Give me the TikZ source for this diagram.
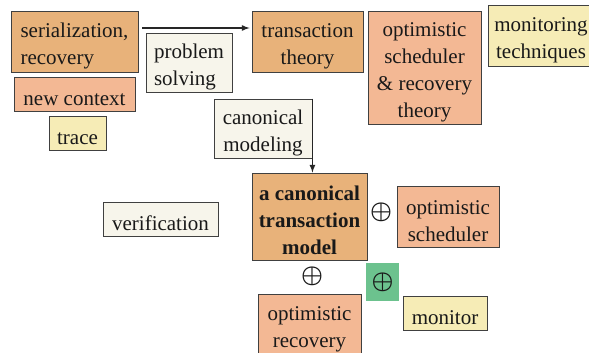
\documentclass[tikz,border=0pt]{standalone}
\usepackage{fontspec}
\setmainfont{Liberation Serif}
\definecolor{deeporange}{HTML}{E8B27A}
\definecolor{salmon}{HTML}{F3B894}
\definecolor{paleyellow}{HTML}{F6ECB6}
\definecolor{cream}{HTML}{F7F5EB}
\definecolor{plusgreen}{HTML}{6CC28E}
\newcommand{\plussign}{\resizebox{22pt}{!}{\boldmath$\oplus$}}
\newcommand{\tstrut}{\rule{0pt}{23pt}}

\begin{document}
\begin{tikzpicture}[x=1pt, y=-1pt, >=latex,
	card/.style={draw=black!75, line width=0.9pt, inner sep=0pt, align=center, text=black!90,
		font=\fontsize{21}{27}\selectfont},
	deep/.style={card, fill=deeporange},
	soft/.style={card, fill=salmon},
	pale/.style={card, fill=paleyellow},
	note/.style={card, fill=cream},
	plus/.style={inner sep=0pt, text=black!90}]
	\useasboundingbox (0,0) rectangle (589,353);
	% left column
	\node[deep, minimum width=127pt, minimum height=61pt, align=left] (ser) at (74.5,41.5) {\tstrut serialization,\\recovery};
	\node[soft, minimum width=121pt, minimum height=34pt] (ctx) at (74.5,94) {\tstrut new context};
	\node[pale, minimum width=57pt, minimum height=34pt] (trace) at (77.5,133) {\tstrut trace};
	\node[note, minimum width=86pt, minimum height=59pt, align=left] (solve) at (189,62.5) {\tstrut problem\\solving};
	% top row
	\node[deep, minimum width=111pt, minimum height=61pt] (theory) at (307.5,41.5) {\tstrut transaction\\theory};
	\node[soft, minimum width=113pt, minimum height=113pt] (osrt) at (424.5,67.5) {\tstrut optimistic\\scheduler\\\& recovery\\theory};
	\node[pale, minimum width=106pt, minimum height=61pt] (montech) at (541,35.5) {\tstrut monitoring\\techniques};
	\node[note, minimum width=98pt, minimum height=59pt] (canon) at (263,128.5) {\tstrut canonical\\modeling};
	% middle
	\node[deep, minimum width=115pt, minimum height=87pt, font=\fontsize{21}{27}\selectfont\bfseries] (model) at (309.5,216.5) {\tstrut a canonical\\transaction\\model};
	\node[note, minimum width=115pt, minimum height=34pt] (verif) at (160.5,219) {\tstrut verification};
	\node[plus] (plusR) at (381,212) {\plussign};
	\node[soft, minimum width=102pt, minimum height=61pt] (osched) at (448,216.5) {\tstrut optimistic\\scheduler};
	% bottom
	\node[plus] (plusB) at (312,276) {\plussign};
	\node[plus, fill=plusgreen, minimum width=33pt, minimum height=38pt] (plusG) at (382.5,282) {\plussign};
	\node[soft, minimum width=103pt, minimum height=61pt] (orec) at (309.5,324.5) {\tstrut optimistic\\recovery};
	\node[pale, minimum width=84pt, minimum height=34pt] (mon) at (445,313) {\tstrut monitor};
	% arrows
	\draw[->, line width=1.6pt, black!85] ([xshift=4pt,yshift=13.5pt]ser.east) -- ([xshift=-2pt,yshift=13.5pt]theory.west);
	\draw[->, line width=1.6pt, black!85] (canon.north east) -- (canon.north east |- model.north);
\end{tikzpicture}
\end{document}
